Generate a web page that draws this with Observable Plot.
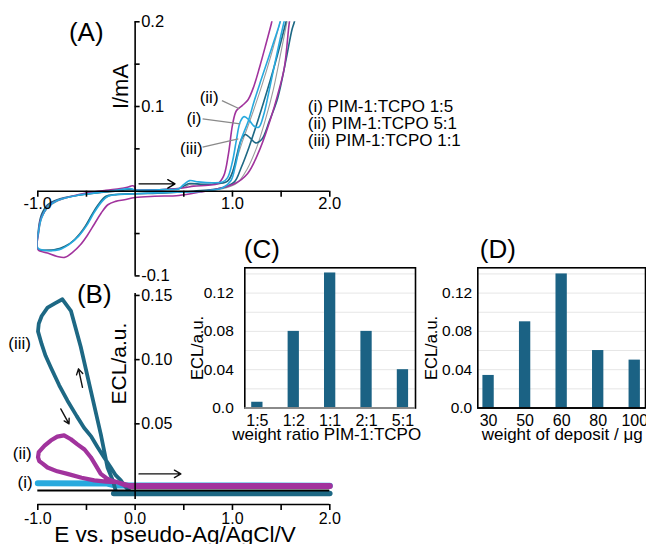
<!DOCTYPE html>
<html><head><meta charset="utf-8">
<script src="https://cdn.jsdelivr.net/npm/d3@7"></script>
<script src="https://cdn.jsdelivr.net/npm/@observablehq/plot@0.6"></script>
<style>
body{margin:0;background:#fff;color:#000;}
#wrap{position:relative;width:646px;height:544px;overflow:hidden;}
</style></head><body><div id="wrap"></div>
<script>
// ---------- DATA ----------
// Panel A: cyclic voltammograms [E (V), I (mA)]
const cvMagenta = [[0,0.001],[0.3,0.002],[0.5,0.004],[0.6,0.006],[0.75,0.007],[0.85,0.009],[0.91,0.018],[0.96,0.045],[1.0,0.078],[1.04,0.095],[1.1,0.101],[1.16,0.108],[1.22,0.124],[1.28,0.147],[1.34,0.172],[1.4,0.198],[1.45,0.222],
 [1.62,0.222],[1.585,0.2],[1.533,0.146],[1.46,0.112],[1.396,0.087],[1.29,0.052],[1.156,0.021],[1.02,0.0087],[0.85,0.003],[0.67,-0.001],[0.45,-0.005],[0.2,-0.006],[0,-0.0075],[-0.11,-0.01],[-0.2,-0.012],[-0.28,-0.016],[-0.35,-0.026],[-0.42,-0.039],[-0.49,-0.052],[-0.56,-0.063],[-0.64,-0.072],[-0.72,-0.078],[-0.8,-0.077],[-0.9,-0.073],[-1.0,-0.069],
 [-0.995,-0.05],[-0.97,-0.033],[-0.94,-0.026],[-0.88,-0.016],[-0.8,-0.011],[-0.65,-0.006],[-0.49,-0.002],[-0.3,0.001],[-0.15,0.003],[-0.08,0.0047],[-0.03,0.0065],[-0.01,0.006],[0,0.001]];
const cvCyan = [[0,0.001],[0.3,0.002],[0.45,0.003],[0.5,0.008],[0.56,0.0125],[0.65,0.011],[0.8,0.01],[0.9,0.011],[0.95,0.016],[1.0,0.035],[1.04,0.06],[1.08,0.082],[1.12,0.088],[1.17,0.084],[1.22,0.077],[1.27,0.0755],[1.32,0.09],[1.37,0.115],[1.43,0.148],[1.5,0.185],[1.54,0.205],[1.58,0.225],
 [1.53,0.225],[1.49,0.2],[1.42,0.175],[1.36,0.154],[1.29,0.13],[1.225,0.107],[1.16,0.082],[1.087,0.06],[1.03,0.03],[0.985,0.0126],[0.9,0.004],[0.7,0.0],[0.5,-0.001],[0.2,-0.002],[0,-0.003],[-0.2,-0.004],[-0.28,-0.006],[-0.34,-0.012],[-0.42,-0.025],[-0.5,-0.041],[-0.58,-0.053],[-0.68,-0.063],[-0.78,-0.069],[-0.9,-0.07],[-1.0,-0.067],
 [-0.99,-0.046],[-0.96,-0.031],[-0.9,-0.019],[-0.8,-0.011],[-0.6,-0.005],[-0.4,-0.002],[-0.2,0.001],[-0.05,0.003],[0,0.001]];
const cvTeal = [[0,0.001],[0.3,0.002],[0.45,0.003],[0.5,0.006],[0.56,0.009],[0.7,0.008],[0.85,0.009],[0.95,0.012],[1.0,0.022],[1.05,0.045],[1.09,0.061],[1.13,0.067],[1.18,0.063],[1.24,0.057],[1.3,0.061],[1.38,0.083],[1.465,0.11],[1.55,0.155],[1.61,0.19],[1.636,0.2],[1.68,0.225],
 [1.6,0.225],[1.55,0.2],[1.46,0.16],[1.36,0.12],[1.26,0.083],[1.17,0.052],[1.09,0.028],[1.02,0.011],[0.9,0.004],[0.6,0.0],[0.3,-0.002],[0,-0.003],[-0.2,-0.004],[-0.3,-0.006],[-0.38,-0.016],[-0.45,-0.029],[-0.53,-0.045],[-0.62,-0.057],[-0.72,-0.065],[-0.82,-0.069],[-0.92,-0.07],[-1.0,-0.068],
 [-0.99,-0.042],[-0.96,-0.027],[-0.9,-0.016],[-0.8,-0.01],[-0.6,-0.005],[-0.4,-0.002],[-0.2,0.0],[-0.05,0.002],[0,0.001]];
const cvGray = [[0,0.001],[0.5,0.004],[0.56,0.008],[0.8,0.008],[0.95,0.012],[1.02,0.03],[1.1,0.058],[1.2,0.09],[1.3,0.124],[1.4,0.162],[1.49,0.2],[1.55,0.225],
 [1.6,0.225],[1.56,0.2],[1.5,0.165],[1.42,0.12],[1.34,0.085],[1.25,0.052],[1.15,0.026],[1.05,0.01],[0.9,0.003],[0.5,-0.001],[0,-0.003],[-0.25,-0.005],[-0.33,-0.01],[-0.4,-0.02],[-0.48,-0.035],[-0.57,-0.05],[-0.67,-0.062],[-0.78,-0.068],[-0.9,-0.069],[-1.0,-0.068],
 [-0.99,-0.05],[-0.96,-0.032],[-0.9,-0.02],[-0.8,-0.012],[-0.6,-0.005],[-0.3,-0.001],[0,0.001]];

// Panel B: ECL [E (V), ECL (a.u.)]
const eclTeal = [[-0.2,-0.002],[-0.23,0.006],[-0.284,0.016],[-0.353,0.042],[-0.456,0.076],[-0.559,0.11],[-0.66,0.138],[-0.747,0.147],[-0.82,0.144],[-0.9,0.1405],[-0.96,0.134],[-0.99,0.128],[-0.998,0.122],[-0.96,0.112],[-0.92,0.103],[-0.867,0.094],[-0.78,0.08],[-0.695,0.068],[-0.6,0.056],[-0.525,0.047],[-0.45,0.04],[-0.387,0.032],[-0.32,0.024],[-0.25,0.016],[-0.2,0.01],[-0.147,0.006],[-0.1,0.001],[-0.05,-0.003]];
const eclTealBase = [[-0.22,-0.0042],[2.0,-0.0042]];
const eclMagenta = [[0,0.0015],[-0.1,0.002],[-0.18,0.0045],[-0.25,0.006],[-0.3,0.008],[-0.353,0.011],[-0.4,0.017],[-0.456,0.024],[-0.52,0.03],[-0.593,0.034],[-0.66,0.038],[-0.73,0.041],[-0.8,0.04],[-0.867,0.037],[-0.93,0.033],[-0.99,0.028],[-0.998,0.024],[-0.985,0.021],[-0.95,0.019],[-0.9,0.016],[-0.8,0.013],[-0.695,0.011],[-0.55,0.008],[-0.42,0.006],[-0.3,0.005],[-0.18,0.0045],[-0.05,0.002],[0,0.0015]];
const eclMagentaBase = [[-0.05,0.0015],[2.0,0.0015]];
const eclCyan = [[-1.0,0.0038],[-0.3,0.0036],[-0.2,0.002],[2.0,0.0018]];

// Panels C and D: bars
const ratioLabels = ["1:5","1:2","1:1","2:1","5:1"];
const ratioECL = [0.006, 0.08, 0.141, 0.08, 0.04];
const depositLabels = ["30","50","60","80","100"];
const depositECL = [0.034, 0.09, 0.14, 0.06, 0.05];

// Ticks
const aXTicks = [-1,-0.5,0.5,1,1.5,2];
const aXTickLabelVals = [-1,1,2];
const aXTickLabels = ["-1.0","1.0","2.0"];
const aYTicks = [0.2,0.15,0.1,0.05,-0.05,-0.1];
const aYTickLabelVals = [0.2,0.1,-0.1];
const aYTickLabels = ["0.2","0.1","-0.1"];
const bXTicks = [-1,-0.5,0,0.5,1,1.5,2];
const bXTickLabelVals = [-1,0,1,2];
const bXTickLabels = ["-1.0","0.0","1.0","2.0"];
const bYTicks = [0.05,0.1,0.15];
const bYTickLabels = ["0.05","0.10","0.15"];
const barTickVals = [0,0.04,0.08,0.12];
const barTickLabels = ["0.0","0.04","0.08","0.12"];
const barGrid = [0.02,0.04,0.06,0.08,0.10,0.12,0.14];

// Annotations
const legendLines = ["(i) PIM-1:TCPO 1:5","(ii) PIM-1:TCPO 5:1","(iii) PIM-1:TCPO 1:1"];
const legendY = [0.1, 0.0796, 0.06];
const aNotes = ["(ii)","(i)","(iii)"];
const aNoteX = [0.76, 0.604, 0.578];
const aNoteY = [0.111, 0.0858, 0.0504];
const aLeaders = [[0.892,0.107,1.07,0.0973],[0.693,0.0855,1.08,0.0796],[0.693,0.052,1.06,0.0619]];
const aArrows = [[0.04,0.0087,0.41,0.0087]];
const bNotes = ["(iii)","(ii)","(i)"];
const bNoteX = [-1.186,-1.16,-1.13];
const bNoteY = [0.1125,0.0268,0.0043];
const bArrows = [[0.04,0.011,0.47,0.011],[-0.541,0.0784,-0.582,0.0928],[-0.764,0.0616,-0.679,0.05]];

// ---------- DRAW ----------
const FONT = '"Liberation Sans", Arial, Helvetica, sans-serif';
const MAG="#a1339d", CYAN="#27a9de", TEAL="#1d6884", GRAY="#9c9c9c", BAR="#1b6284";
const wrap = document.getElementById("wrap");
const baseStyle = {background:"transparent", fontFamily: FONT, fontSize:"16px", overflow:"visible", color:"#000"};
function place(svg, left, top){ svg.style.position="absolute"; svg.style.left=left+"px"; svg.style.top=top+"px"; wrap.appendChild(svg); }
const X = d=>d[0], Y = d=>d[1];
const idx = arr => arr.map((_, i) => i);

// Panel A
const A = Plot.plot({
  width: 646, height: 290,
  marginLeft: 37.3, marginRight: 316.7, marginTop: 21.3, marginBottom: 14.6,
  x: {domain: [-1, 2], axis: null},
  y: {domain: [-0.1, 0.2], axis: null},
  style: baseStyle,
  marks: [
    Plot.line(cvGray, {x: X, y: Y, stroke: GRAY, strokeWidth: 1.1, curve: "catmull-rom", clip: true}),
    Plot.line(cvTeal, {x: X, y: Y, stroke: TEAL, strokeWidth: 1.6, curve: "catmull-rom", clip: true}),
    Plot.line(cvMagenta, {x: X, y: Y, stroke: MAG, strokeWidth: 1.6, curve: "catmull-rom", clip: true}),
    Plot.line(cvCyan, {x: X, y: Y, stroke: CYAN, strokeWidth: 1.6, curve: "catmull-rom", clip: true}),
    Plot.ruleY([0], {x1: -1, x2: 2, stroke: "#000", strokeWidth: 1.6}),
    Plot.ruleX([0], {y1: -0.1, y2: 0.2, stroke: "#000", strokeWidth: 1.6}),
    Plot.ruleX(aXTicks, {x: d=>d, y1: 0, y2: 0, insetBottom: -6, stroke: "#000", strokeWidth: 1.6}),
    Plot.ruleY(aYTicks, {y: d=>d, x1: 0, x2: 0, insetRight: -5, stroke: "#000", strokeWidth: 1.6}),
    Plot.text(idx(aXTickLabels), {x: i=>aXTickLabelVals[i], y: 0, text: i=>aXTickLabels[i], dy: 12.6, fontSize: 16.5}),
    Plot.text(idx(aYTickLabels), {x: 0, y: i=>aYTickLabelVals[i], text: i=>aYTickLabels[i], dx: 6, textAnchor: "start", fontSize: 16.5}),
    Plot.text(["I/mA"], {x: -0.147, y: 0.1236, rotate: -90, fontSize: 22}),
    Plot.text(["(A)"], {x: -0.502, y: 0.187, fontSize: 26}),
    Plot.link(aLeaders, {x1: d=>d[0], y1: d=>d[1], x2: d=>d[2], y2: d=>d[3], stroke: "#8a8a8a", strokeWidth: 1.3}),
    Plot.text(idx(aNotes), {x: i=>aNoteX[i], y: i=>aNoteY[i], text: i=>aNotes[i], fontSize: 17}),
    Plot.text(idx(legendLines), {x: 1.774, y: i=>legendY[i], text: i=>legendLines[i], textAnchor: "start", fontSize: 17}),
    Plot.arrow(aArrows, {x1: d=>d[0], y1: d=>d[1], x2: d=>d[2], y2: d=>d[3], stroke: "#000", strokeWidth: 1.4, headLength: 9})
  ]
});
place(A, 0, 0);

// Panel B
const B = Plot.plot({
  width: 646, height: 264,
  marginLeft: 37.3, marginRight: 316.7, marginTop: 2.1, marginBottom: 30.8,
  x: {domain: [-1, 2], axis: null},
  y: {domain: [-0.02, 0.16], axis: null},
  style: baseStyle,
  marks: [
    Plot.line(eclCyan, {x: X, y: Y, stroke: CYAN, strokeWidth: 6}),
    Plot.line(eclTealBase, {x: X, y: Y, stroke: TEAL, strokeWidth: 5.5}),
    Plot.line(eclTeal, {x: X, y: Y, stroke: TEAL, strokeWidth: 3.8, strokeLinejoin: "round"}),
    Plot.ruleY([-0.0019], {x1: -1, x2: 2, stroke: "#000", strokeWidth: 2}),
    Plot.line(eclMagentaBase, {x: X, y: Y, stroke: MAG, strokeWidth: 6}),
    Plot.line(eclMagenta, {x: X, y: Y, stroke: MAG, strokeWidth: 4.2, strokeLinejoin: "round"}),
    Plot.ruleY([-0.0128], {x1: -1, x2: 2, stroke: "#000", strokeWidth: 1.6}),
    Plot.ruleX([0], {y1: -0.009, y2: 0.1516, stroke: "#000", strokeWidth: 1.6}),
    Plot.ruleX(bXTicks, {x: d=>d, y1: -0.0128, y2: -0.0128, insetBottom: -6, stroke: "#000", strokeWidth: 1.6}),
    Plot.ruleY(bYTicks, {y: d=>d, x1: 0, x2: 0, insetRight: -5, stroke: "#000", strokeWidth: 1.6}),
    Plot.text(idx(bXTickLabels), {x: i=>bXTickLabelVals[i], y: -0.0128, text: i=>bXTickLabels[i], dy: 14, fontSize: 16}),
    Plot.text(idx(bYTickLabels), {x: 0, y: i=>bYTicks[i], text: i=>bYTickLabels[i], dx: 6, textAnchor: "start", fontSize: 16}),
    Plot.text(["E vs. pseudo-Ag/AgCl/V"], {x: 0.41, y: -0.0128, dy: 30, fontSize: 22.5}),
    Plot.text(["ECL/a.u."], {x: -0.168, y: 0.0969, rotate: -90, fontSize: 21}),
    Plot.text(["(B)"], {x: -0.42, y: 0.1506, fontSize: 26}),
    Plot.text(idx(bNotes), {x: i=>bNoteX[i], y: i=>bNoteY[i], text: i=>bNotes[i], fontSize: 17}),
    Plot.arrow(bArrows, {x1: d=>d[0], y1: d=>d[1], x2: d=>d[2], y2: d=>d[3], stroke: "#111", strokeWidth: 1.4, headLength: 8})
  ]
});
place(B, 0, 280);

// Bar panels
function barPanel(labels, values, title, tag, o) {
  const table = labels.map((l, i) => ({label: l, value: values[i]}));
  return Plot.plot({
    width: o.width, height: 215,
    marginLeft: o.ml, marginRight: o.mr, marginTop: 42.3, marginBottom: 32.5,
    x: {type: "band", domain: labels, paddingInner: 0.69, paddingOuter: o.po, round: false, axis: null},
    y: {domain: [0, 0.1464], axis: null},
    style: baseStyle,
    marks: [
      Plot.ruleY(barGrid, {stroke: "#e6e6e6", strokeWidth: 1}),
      Plot.barY(table, {x: "label", y: "value", fill: BAR}),
      Plot.frame({stroke: "#000", strokeWidth: 1.6}),
      Plot.ruleY([0], {stroke: o.bottom, strokeWidth: 1.6}),
      Plot.text(idx(barTickLabels), {y: i=>barTickVals[i], text: i=>barTickLabels[i], frameAnchor: "left", textAnchor: "end", lineAnchor: "middle", dx: o.tdx, fontSize: 15.5}),
      Plot.text(labels, {x: d=>d, text: d=>d, frameAnchor: "bottom", lineAnchor: "middle", dy: 12.5, fontSize: 16}),
      Plot.text([title], {frameAnchor: "bottom", lineAnchor: "middle", textAnchor: "middle", dy: 26.5, dx: o.titleDx, fontSize: 17}),
      Plot.text([tag], {frameAnchor: "top-left", textAnchor: "start", lineAnchor: "middle", dx: o.tagDx, dy: -18, fontSize: 26}),
      Plot.text(["ECL/a.u."], {frameAnchor: "left", rotate: -90, textAnchor: "middle", lineAnchor: "middle", dx: o.ldx, dy: 10, fontSize: 16.5})
    ]
  });
}
place(barPanel(ratioLabels, ratioECL, "weight ratio PIM-1:TCPO", "(C)",
  {width: 230, ml: 54.3, mr: 5, po: 0.19, tdx: -11, titleDx: -3.5, tagDx: -1, ldx: -47.3, bottom: "#a8a8a8"}), 190, 225);
place(barPanel(depositLabels, depositECL, "weight of deposit / μg", "(D)",
  {width: 226, ml: 57.3, mr: 1, po: 0.14, tdx: -5.6, titleDx: 0.5, tagDx: 2, ldx: -46.3, bottom: "#000"}), 420, 225);
</script></body></html>
